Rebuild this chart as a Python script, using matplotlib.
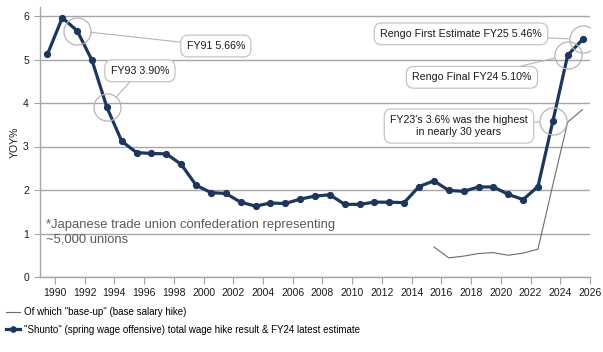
import matplotlib
matplotlib.use("Agg")
import matplotlib.pyplot as plt
import numpy as np

plt.rcParams['font.family'] = ['Liberation Sans', 'DejaVu Sans']

# shunto total wage hike, FY89..FY25 (plotted mid-year)
years_total = list(range(1989, 2026))
total_hike = [5.12, 5.96, 5.66, 4.98, 3.90, 3.12, 2.86, 2.84, 2.83, 2.59,
              2.11, 1.94, 1.92, 1.72, 1.63, 1.70, 1.69, 1.79, 1.86, 1.89,
              1.67, 1.67, 1.72, 1.72, 1.71, 2.08, 2.21, 1.99, 1.97, 2.07,
              2.07, 1.90, 1.78, 2.08, 3.58, 5.10, 5.46]

# of which base-up, FY15..FY25
years_base = list(range(2015, 2026))
base_up = [0.69, 0.44, 0.48, 0.54, 0.56, 0.50, 0.55, 0.64, 2.12, 3.56, 3.85]

x_ticks = list(range(1990, 2027, 2))
y_ticks = [0, 1, 2, 3, 4, 5, 6]

# callouts: (fiscal year, value, label, text x, text y)
callouts = [
    (1991, 5.66, "FY91 5.66%", 2000.83, 5.31),
    (1993, 3.90, "FY93 3.90%", 1995.72, 4.74),
    (2025, 5.46, "Rengo First Estimate FY25 5.46%", 2017.32, 5.59),
    (2024, 5.10, "Rengo Final FY24 5.10%", 2018.06, 4.59),
    (2023, 3.58, "FY23's 3.6% was the highest\nin nearly 30 years", 2017.19, 3.47),
]

navy = '#1b365f'
grid_c = '#a6a6a6'
text_c = '#1a1a1a'

fig = plt.figure(figsize=(6.03, 3.52), dpi=100)
fig.set_facecolor('w')
ax = fig.add_axes([40/603, 75/352, 550/603, 269.7/352])

xt = np.array(years_total) + 0.5
xb = np.array(years_base) + 0.5

ax.grid(True, axis='y', color=grid_c, linewidth=1.0)
ax.set_axisbelow(True)

l_base, = ax.plot(xb, base_up, '-', color='#6b6b6b', linewidth=0.8,
                  label='Of which "base-up" (base salary hike)')
l_tot, = ax.plot(xt, total_hike, '-o', color=navy, linewidth=2.3, markersize=4.2,
                 label='"Shunto" (spring wage offensive) total wage hike result & FY24 latest estimate')

for fy, val, lab, tx, ty in callouts:
    ax.plot([fy + 0.5], [val], 'o', markersize=19.5, markerfacecolor='none',
            markeredgecolor='#b5b5b5', markeredgewidth=0.9, zorder=5)
    ax.annotate(lab, xy=(fy + 0.5, val), xytext=(tx, ty), ha='center', va='center',
                fontsize=7.7, color=text_c, linespacing=1.3,
                bbox=dict(boxstyle='round,pad=0.55,rounding_size=0.7', fc='white', ec='#c4c4c4', lw=0.9),
                arrowprops=dict(arrowstyle='-', color='#b5b5b5', lw=0.8, shrinkA=0, shrinkB=9.7),
                zorder=6)

ax.text(1989.4, 1.03, "*Japanese trade union confederation representing\n~5,000 unions",
        fontsize=9.4, color='#595959', ha='left', va='center', linespacing=1.25)

ax.set_xlim(1989, 2026)
ax.set_ylim(0, 6.2)
ax.set_xticks(x_ticks)
ax.set_yticks(y_ticks)
ax.tick_params(axis='x', direction='out', length=5, color=grid_c, labelsize=7.5,
               labelcolor=text_c, pad=3)
ax.tick_params(axis='y', direction='out', length=4, color=grid_c, labelsize=7.5,
               labelcolor=text_c, pad=4)
for s in ['top', 'right']:
    ax.spines[s].set_visible(False)
for s in ['left', 'bottom']:
    ax.spines[s].set_color(grid_c)
    ax.spines[s].set_linewidth(1.0)

ax.set_ylabel('YOY%', fontsize=7.5, color=text_c, labelpad=2)

fig.legend(handles=[l_base, l_tot], loc='upper left', bbox_to_anchor=(0.003, 0.138),
           frameon=False, fontsize=7.0, handlelength=1.5, handletextpad=0.4,
           labelspacing=0.75, borderaxespad=0, markerscale=0.9)

plt.savefig('out.png', dpi=100)
plt.close()
